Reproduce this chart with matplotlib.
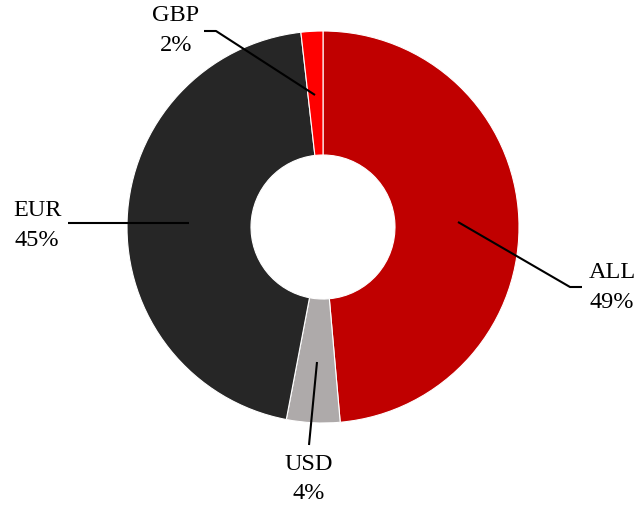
import matplotlib
matplotlib.use("Agg")
import matplotlib.pyplot as plt

categories = ["ALL", "USD", "EUR", "GBP"]
values = [48.6, 4.4, 45.2, 1.8]
colors = ["#C00000", "#AEAAAA", "#262626", "#FF0000"]

W, H = 635, 506
fig = plt.figure(figsize=(W / 100, H / 100), dpi=100)
ax = fig.add_axes([0, 0, 1, 1])

cx, cy, R = 323, H - 228, 196
ax.pie(values, colors=colors, startangle=90, counterclock=False,
       center=(cx, cy), radius=R, frame=True,
       wedgeprops=dict(width=R - 72, edgecolor="white", linewidth=0.8))
ax.set_xlim(0, W)
ax.set_ylim(0, H)
ax.set_aspect("equal")
ax.axis("off")

font = dict(family="Liberation Serif", size=17.5, color="#000000")

# leader lines (pixel coordinates, y from top)
leaders = {
    "ALL": [(458, 223), (570, 288), (582, 288)],
    "USD": [(317, 363), (309, 446)],
    "EUR": [(189, 224), (68, 224)],
    "GBP": [(315, 96), (216, 32), (204, 32)],
}
label_pos = {
    "ALL": (612, 272, 302),
    "USD": (309, 465, 494),
    "EUR": (37, 210, 241),
    "GBP": (176, 15, 45),
}
for cat, v in zip(categories, values):
    pts = leaders[cat]
    ax.plot([p[0] for p in pts], [H - p[1] for p in pts], color="black", lw=1.5,
            solid_capstyle="butt")
    x, y1, y2 = label_pos[cat]
    ax.text(x, H - y1, cat, ha="center", va="center", **font)
    ax.text(x, H - y2, f"{round(v)}%", ha="center", va="center", **font)

fig.savefig("out.png", dpi=100)
